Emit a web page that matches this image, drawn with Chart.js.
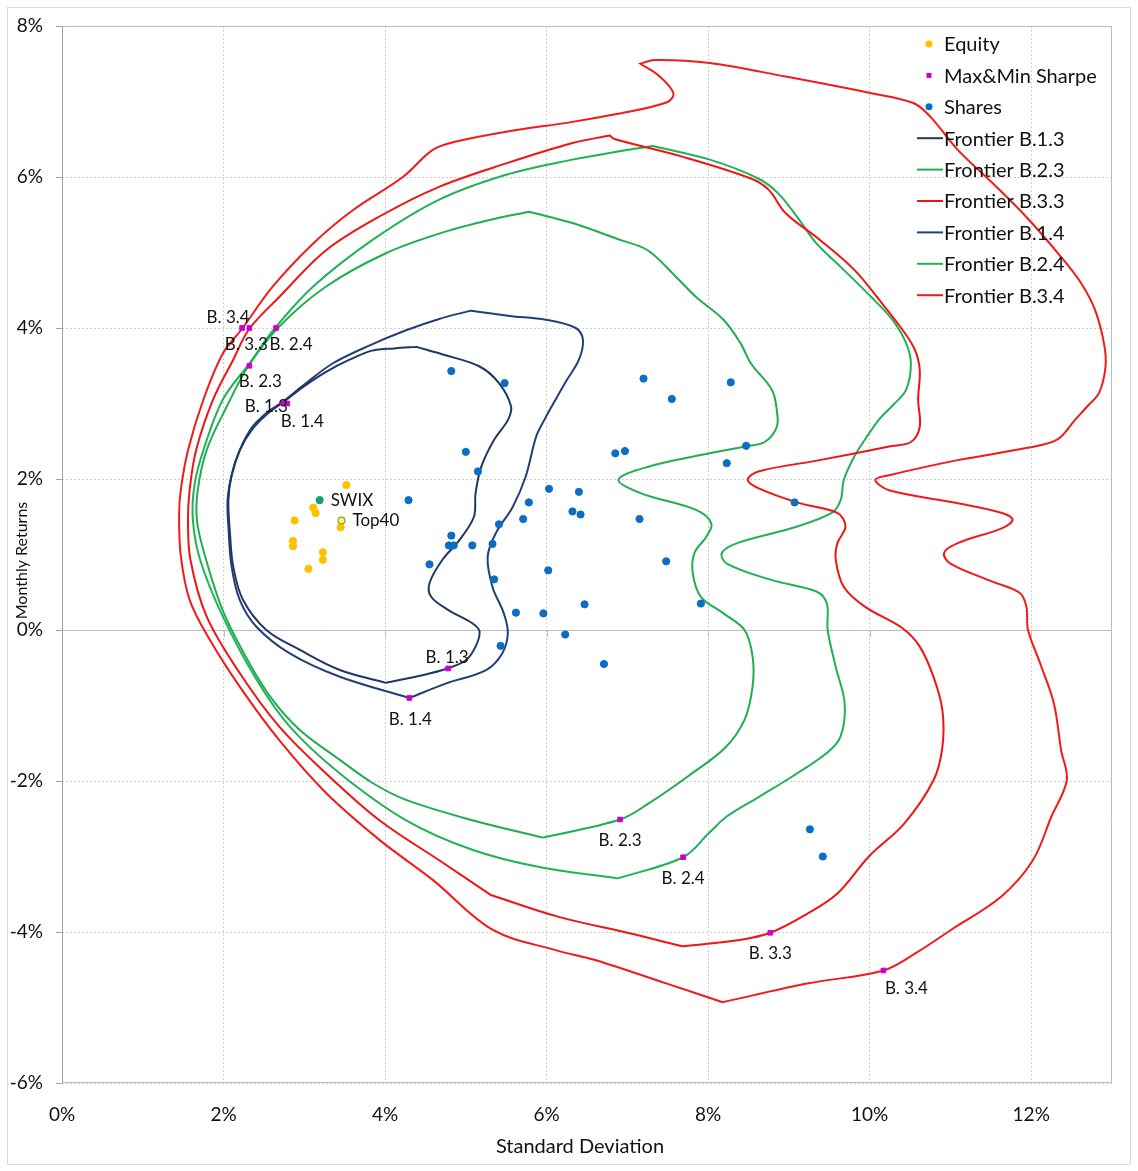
<!DOCTYPE html>
<html>
<head>
<meta charset="utf-8">
<script src="https://cdn.jsdelivr.net/npm/chart.js@4/dist/chart.umd.min.js"></script>
<style>
  html, body { margin: 0; padding: 0; background: #ffffff; }
  #wrap { width: 1138px; height: 1171px; position: relative; }
  canvas { display: block; }
</style>
</head>
<body>
<div id="wrap"><canvas id="c" width="1138" height="1171"></canvas></div>
<script>
// Axis ticks (percent)
const xTicks = [0, 2, 4, 6, 8, 10, 12];
const yTicks = [-6, -4, -2, 0, 2, 4, 6, 8];
const xTitle = 'Standard Deviation';
const yTitle = 'Monthly Returns';

// Points: [standard deviation %, monthly return %]
const equity = [[3.52,1.92],[3.11,1.62],[3.14,1.55],[2.88,1.45],[3.45,1.36],[2.86,1.18],[2.86,1.11],[3.23,1.03],[3.23,0.93],[3.05,0.81]];
const swix = [[3.19,1.72]];
const top40 = [[3.46,1.45]];
const shares = [
  [4.82,3.43],[5.48,3.27],[5.00,2.36],[5.15,2.10],[4.29,1.72],[6.85,2.34],[6.97,2.37],[6.03,1.87],
  [6.40,1.83],[5.78,1.69],[6.32,1.57],[6.42,1.53],[5.71,1.47],[5.41,1.40],[4.82,1.25],[4.79,1.12],
  [4.85,1.12],[5.08,1.12],[5.33,1.14],[4.55,0.87],[6.02,0.79],[5.35,0.67],[6.47,0.34],[5.62,0.23],
  [5.96,0.22],[6.23,-0.06],[5.43,-0.21],[6.71,-0.45],[7.20,3.33],[8.28,3.28],[7.55,3.06],[8.47,2.44],
  [8.23,2.21],[9.07,1.69],[7.15,1.47],[7.48,0.91],[7.91,0.35],[9.26,-2.64],[9.42,-3.00]
];
const sharpePoints = [
  [2.23,4.00],[2.32,4.00],[2.65,4.00],[2.32,3.50],[2.74,3.00],[2.79,3.00],
  [4.78,-0.51],[4.30,-0.90],[6.91,-2.51],[7.69,-3.01],[8.77,-4.01],[10.17,-4.51]
];
const sharpeNames = ['B. 3.4','B. 3.3','B. 2.4','B. 2.3','B. 1.3','B. 1.4','B. 1.3','B. 1.4','B. 2.3','B. 2.4','B. 3.3','B. 3.4'];

// Frontier outlines, each traced as a closed loop
const frontierB13 = [
  [4.01,-0.70],[3.44,-0.53],[2.94,-0.26],[2.53,0.00],[2.24,0.40],[2.12,0.84],[2.08,1.28],[2.06,1.72],
  [2.10,2.05],[2.20,2.38],[2.35,2.65],[2.55,2.87],[2.73,3.01],[3.00,3.23],[3.27,3.42],[3.56,3.58],
  [3.84,3.70],[4.12,3.73],[4.39,3.75],[4.75,3.64],[5.17,3.49],[5.41,3.27],[5.56,2.96],[5.52,2.78],
  [5.35,2.52],[5.19,2.16],[5.12,1.81],[5.10,1.50],[4.92,1.19],[4.71,0.93],[4.55,0.62],[4.57,0.44],
  [4.79,0.26],[5.08,0.09],[5.17,-0.02],[5.12,-0.22],[5.00,-0.40],[4.77,-0.51],[4.46,-0.60],[4.01,-0.70]
];
const frontierB14 = [
  [4.30,-0.90],[3.44,-0.62],[2.82,-0.31],[2.41,0.04],[2.20,0.40],[2.10,0.84],[2.06,1.37],[2.05,1.72],
  [2.10,2.05],[2.20,2.38],[2.35,2.68],[2.55,2.89],[2.73,3.02],[3.00,3.25],[3.35,3.53],[3.81,3.77],
  [4.26,3.97],[4.67,4.12],[5.06,4.23],[5.54,4.16],[5.99,4.11],[6.36,4.00],[6.45,3.84],[6.40,3.58],
  [6.25,3.31],[6.11,3.05],[5.97,2.78],[5.87,2.56],[5.74,2.03],[5.58,1.63],[5.37,1.28],[5.27,0.97],
  [5.33,0.57],[5.47,0.22],[5.52,-0.04],[5.45,-0.31],[5.25,-0.53],[4.75,-0.71],[4.30,-0.90]
];
const frontierB23 = [
  [5.95,-2.75],[5.08,-2.52],[4.26,-2.25],[3.85,-2.03],[3.44,-1.72],[2.94,-1.32],[2.61,-0.93],[2.32,-0.44],
  [1.99,0.26],[1.75,1.06],[1.67,1.46],[1.68,1.85],[1.79,2.38],[2.04,2.96],[2.31,3.50],[2.69,4.02],
  [3.27,4.55],[4.01,4.99],[4.67,5.25],[5.29,5.43],[5.78,5.54],[6.32,5.39],[6.90,5.17],[7.25,5.03],
  [7.60,4.68],[7.85,4.41],[8.19,4.11],[8.40,3.80],[8.53,3.53],[8.79,3.18],[8.85,2.91],[8.85,2.69],
  [8.70,2.49],[8.45,2.43],[8.02,2.34],[7.25,2.16],[6.89,1.99],[7.17,1.81],[7.85,1.59],[8.04,1.41],
  [7.98,1.24],[7.83,1.02],[7.81,0.75],[7.91,0.44],[8.19,0.22],[8.45,0.00],[8.55,-0.35],[8.55,-0.75],
  [8.45,-1.19],[8.21,-1.56],[7.76,-1.93],[7.26,-2.30],[6.91,-2.51],[5.95,-2.75]
];
const frontierB24 = [
  [6.88,-3.29],[5.91,-3.14],[5.08,-2.91],[4.26,-2.52],[3.44,-1.90],[2.82,-1.28],[2.41,-0.66],[1.99,0.18],
  [1.71,0.93],[1.62,1.46],[1.64,1.92],[1.75,2.38],[1.99,3.05],[2.32,3.53],[2.63,3.99],[3.11,4.55],
  [3.85,5.17],[4.67,5.70],[5.50,6.03],[6.32,6.23],[6.90,6.34],[7.32,6.41],[8.02,6.23],[8.62,5.98],
  [8.87,5.78],[9.13,5.43],[9.34,5.12],[9.64,4.81],[10.02,4.41],[10.28,4.11],[10.45,3.80],[10.51,3.53],
  [10.45,3.18],[10.29,2.98],[10.11,2.78],[9.94,2.52],[9.81,2.30],[9.68,1.99],[9.64,1.72],[9.53,1.55],
  [9.04,1.35],[8.36,1.15],[8.17,1.02],[8.23,0.88],[8.79,0.66],[9.34,0.51],[9.47,0.35],[9.48,0.00],
  [9.58,-0.49],[9.69,-0.97],[9.64,-1.41],[9.47,-1.63],[9.04,-1.94],[8.63,-2.21],[8.23,-2.47],[8.01,-2.69],
  [7.69,-3.01],[6.88,-3.29]
];
const frontierB33 = [
  [7.68,-4.19],[7.04,-4.02],[6.15,-3.80],[5.31,-3.51],[4.67,-3.05],[3.93,-2.52],[3.27,-1.90],[2.69,-1.28],
  [2.20,-0.57],[1.79,0.18],[1.59,0.93],[1.56,1.46],[1.58,1.85],[1.66,2.38],[1.87,3.05],[2.12,3.58],
  [2.32,3.99],[2.69,4.41],[3.27,5.03],[3.97,5.50],[4.67,5.87],[5.50,6.18],[6.32,6.45],[6.78,6.55],
  [6.85,6.50],[7.68,6.27],[8.53,5.98],[8.75,5.83],[8.96,5.52],[9.38,5.17],[9.81,4.77],[10.15,4.33],
  [10.41,3.97],[10.56,3.71],[10.62,3.44],[10.60,3.05],[10.62,2.69],[10.51,2.49],[10.24,2.43],[9.38,2.25],
  [8.62,2.10],[8.49,1.99],[8.62,1.88],[9.13,1.68],[9.60,1.55],[9.70,1.37],[9.60,1.15],[9.58,0.93],
  [9.68,0.57],[9.94,0.31],[10.41,0.02],[10.62,-0.22],[10.79,-0.62],[10.90,-1.06],[10.90,-1.55],[10.79,-1.99],
  [10.43,-2.56],[9.99,-3.00],[9.60,-3.49],[9.24,-3.75],[8.77,-4.01],[8.36,-4.11],[7.68,-4.19]
];
const frontierB34 = [
  [8.18,-4.93],[7.48,-4.68],[6.60,-4.37],[6.11,-4.24],[5.33,-3.97],[4.59,-3.31],[3.93,-2.78],[3.27,-2.16],
  [2.69,-1.46],[2.20,-0.75],[1.83,-0.13],[1.58,0.40],[1.47,0.99],[1.45,1.52],[1.47,1.85],[1.56,2.38],
  [1.75,3.05],[1.99,3.66],[2.23,3.99],[2.61,4.55],[3.11,5.12],[3.60,5.56],[4.22,6.00],[4.59,6.36],
  [4.88,6.47],[5.50,6.60],[6.32,6.73],[6.90,6.84],[7.49,6.99],[7.57,7.11],[7.39,7.34],[7.16,7.50],
  [7.34,7.55],[8.02,7.51],[8.96,7.33],[10.02,7.11],[10.54,6.98],[10.75,6.80],[11.09,6.36],[11.52,5.92],
  [11.94,5.47],[12.37,4.94],[12.62,4.59],[12.79,4.24],[12.90,3.80],[12.92,3.49],[12.84,3.14],[12.71,2.98],
  [12.54,2.78],[12.32,2.52],[11.94,2.41],[11.09,2.25],[10.24,2.05],[10.07,1.99],[10.24,1.85],[11.09,1.68],
  [11.64,1.55],[11.77,1.46],[11.64,1.35],[11.09,1.15],[10.92,1.02],[11.00,0.88],[11.52,0.64],[11.86,0.49],
  [11.94,0.31],[11.96,0.00],[12.11,-0.44],[12.28,-0.97],[12.37,-1.59],[12.44,-1.99],[12.25,-2.47],[12.02,-3.05],
  [11.63,-3.53],[11.01,-3.97],[10.57,-4.28],[10.17,-4.51],[9.24,-4.68],[8.18,-4.93]
];

// Sharp vertices along each outline (the spline is broken there)
const cornersB13 = [[4.39,3.75]];
const cornersB14 = [[5.06,4.23]];
const cornersB23 = [[5.78,5.54]];
const cornersB24 = [[7.32,6.41]];
const cornersB33 = [[5.31,-3.51],[6.78,6.55]];
const cornersB34 = [[7.16,7.50]];

const legendLabels = ['Equity','Max&Min Sharpe','Shares','Frontier B.1.3','Frontier B.2.3','Frontier B.3.3','Frontier B.1.4','Frontier B.2.4','Frontier B.3.4'];

// Style-only placement of the point captions (pixels from the marker)
const sharpeLabelOffsets = [[-14,-10],[-3,17],[15,17],[11,16],[-17,3],[15,18],[-1,-11],[1,22],[0,21],[0,21],[0,21],[23,18]];

const FONT = 'Lato, "Open Sans", "DejaVu Sans", sans-serif';
Chart.defaults.font.family = FONT;
Chart.defaults.color = '#111';

function toXY(arr) { return arr.map(p => ({ x: p[0], y: p[1] })); }
function outline(arr, corners) {
  const out = [];
  arr.forEach(p => {
    out.push({ x: p[0], y: p[1] });
    if (corners.some(c => c[0] === p[0] && c[1] === p[1])) out.push({ x: p[0], y: p[1] });
  });
  return out;
}
function frontier(label, arr, corners, color) {
  return {
    label, data: outline(arr, corners), showLine: true, borderColor: color, backgroundColor: color,
    borderWidth: 2, pointRadius: 0, pointHoverRadius: 0, tension: 0.35, fill: false
  };
}

const datasets = [
  { label: 'Max&Min Sharpe', data: toXY(sharpePoints), pointStyle: 'rect', pointRadius: 3.3,
    backgroundColor: '#CC00CC', borderColor: '#CC00CC', borderWidth: 1 },
  { label: 'SWIX', data: toXY(swix), pointRadius: 3.6, backgroundColor: '#14A06A', borderColor: '#14A06A', borderWidth: 1 },
  { label: 'Top40', data: toXY(top40), pointRadius: 3.4, backgroundColor: '#FFFF70', borderColor: '#8A9A20', borderWidth: 1.2 },
  { label: 'Equity', data: toXY(equity), pointRadius: 3.6, backgroundColor: '#FFC000', borderColor: '#FFC000', borderWidth: 1 },
  { label: 'Shares', data: toXY(shares), pointRadius: 3.6, backgroundColor: '#0A6FC4', borderColor: '#0A6FC4', borderWidth: 1 },
  frontier('Frontier B.1.3', frontierB13, cornersB13, '#1F3864'),
  frontier('Frontier B.2.3', frontierB23, cornersB23, '#1FAE50'),
  frontier('Frontier B.3.3', frontierB33, cornersB33, '#F01414'),
  frontier('Frontier B.1.4', frontierB14, cornersB14, '#223F78'),
  frontier('Frontier B.2.4', frontierB24, cornersB24, '#1FB257'),
  frontier('Frontier B.3.4', frontierB34, cornersB34, '#F21A1A')
];

const decorations = {
  id: 'decorations',
  beforeDraw(chart) {
    const ctx = chart.ctx;
    ctx.save();
    ctx.fillStyle = '#ffffff';
    ctx.fillRect(0, 0, chart.width, chart.height);
    ctx.strokeStyle = '#D9D9D9';
    ctx.lineWidth = 1;
    ctx.strokeRect(7.5, 7.5, chart.width - 15, chart.height - 14);
    ctx.restore();
  },
  beforeDatasetsDraw(chart) {
    const { ctx, chartArea: a, scales: { x, y } } = chart;
    ctx.save();
    ctx.lineWidth = 1;
    // short ticks hanging from the zero line
    const y0 = Math.round(y.getPixelForValue(0));
    ctx.strokeStyle = '#BDBDBD';
    xTicks.forEach(v => {
      if (v === 0) return;
      const px = Math.round(x.getPixelForValue(v)) + 0.5;
      ctx.beginPath(); ctx.moveTo(px, y0); ctx.lineTo(px, y0 + 7); ctx.stroke();
    });
    // plot frame
    ctx.strokeStyle = '#A9BFE3';
    ctx.beginPath();
    ctx.moveTo(a.left, Math.round(a.top) + 0.5);
    ctx.lineTo(Math.round(a.right) - 0.5, Math.round(a.top) + 0.5);
    ctx.lineTo(Math.round(a.right) - 0.5, Math.round(a.bottom) - 0.5);
    ctx.lineTo(a.left, Math.round(a.bottom) - 0.5);
    ctx.stroke();
    ctx.strokeStyle = '#A0A0A0';
    ctx.beginPath();
    ctx.moveTo(Math.round(a.left) + 0.5, a.top);
    ctx.lineTo(Math.round(a.left) + 0.5, a.bottom);
    ctx.stroke();

    // axis titles
    ctx.fillStyle = '#111';
    ctx.textAlign = 'center';
    ctx.textBaseline = 'middle';
    ctx.font = '20px ' + FONT;
    ctx.fillText(xTitle, (a.left + a.right) / 2 - 7, chart.height - 24);
    ctx.translate(22, (a.top + a.bottom) / 2 + 6);
    ctx.rotate(-Math.PI / 2);
    ctx.font = '16px ' + FONT;
    ctx.fillText(yTitle, 0, 0);
    ctx.restore();
  },
  afterDatasetsDraw(chart) {
    const { ctx, chartArea: a } = chart;
    ctx.save();
    ctx.fillStyle = '#111';
    ctx.textBaseline = 'middle';
    ctx.font = '17px ' + FONT;

    // captions of the max / min Sharpe portfolios
    const sIdx = chart.data.datasets.findIndex(d => d.label === 'Max&Min Sharpe');
    ctx.textAlign = 'center';
    chart.getDatasetMeta(sIdx).data.forEach((el, i) => {
      const off = sharpeLabelOffsets[i];
      ctx.fillText(sharpeNames[i], el.x + off[0], el.y + off[1]);
    });
    // index captions
    ctx.textAlign = 'left';
    ['SWIX', 'Top40'].forEach(name => {
      const idx = chart.data.datasets.findIndex(d => d.label === name);
      const el = chart.getDatasetMeta(idx).data[0];
      ctx.fillText(name, el.x + 11, el.y);
    });

    // legend inside the plot, top right
    ctx.font = '20px ' + FONT;
    const textX = a.right - 168;
    legendLabels.forEach((lab, i) => {
      const ds = chart.data.datasets.find(d => d.label === lab);
      const yy = a.top + 18 + i * 31.4;
      if (ds.showLine) {
        ctx.strokeStyle = ds.borderColor;
        ctx.lineWidth = 2;
        ctx.beginPath(); ctx.moveTo(textX - 27, yy); ctx.lineTo(textX - 1, yy); ctx.stroke();
      } else if (ds.pointStyle === 'rect') {
        ctx.fillStyle = ds.backgroundColor;
        ctx.fillRect(textX - 17.5, yy - 2.5, 5, 5);
      } else {
        ctx.fillStyle = ds.backgroundColor;
        ctx.beginPath(); ctx.arc(textX - 15, yy, 3.5, 0, Math.PI * 2); ctx.fill();
      }
      ctx.fillStyle = '#111';
      ctx.fillText(lab, textX, yy + 1);
    });
    ctx.restore();
  }
};

new Chart(document.getElementById('c'), {
  type: 'scatter',
  data: { datasets },
  options: {
    responsive: false,
    devicePixelRatio: 1,
    animation: false,
    events: [],
    layout: { padding: { left: 0, right: 26, top: 26, bottom: 0 } },
    plugins: { legend: { display: false }, tooltip: { enabled: false } },
    scales: {
      x: {
        type: 'linear', min: 0, max: 13,
        afterBuildTicks: axis => { axis.ticks = xTicks.map(v => ({ value: v })); },
        afterFit: axis => { axis.height = 88; },
        grid: { color: '#CFCFCF', lineWidth: 1, drawTicks: false },
        border: { display: false, dash: [2, 2] },
        ticks: { callback: v => v + '%', font: { size: 19 }, color: '#111', padding: 20, maxRotation: 0 },
        title: { display: false }
      },
      y: {
        type: 'linear', min: -6, max: 8,
        afterBuildTicks: axis => { axis.ticks = yTicks.map(v => ({ value: v })); },
        afterFit: axis => { axis.width = 62; },
        grid: {
          color: c => (c.tick && c.tick.value === 0) ? '#BDBDBD' : '#CFCFCF',
          lineWidth: 1, drawTicks: true, tickLength: 6, tickColor: '#A0A0A0', tickBorderDash: []
        },
        border: { display: false, dash: c => (c.tick && c.tick.value === 0) ? [] : [2, 2] },
        ticks: { callback: v => v + '%', font: { size: 19 }, color: '#111', padding: 13 },
        title: { display: false }
      }
    }
  },
  plugins: [decorations]
});
</script>
</body>
</html>
